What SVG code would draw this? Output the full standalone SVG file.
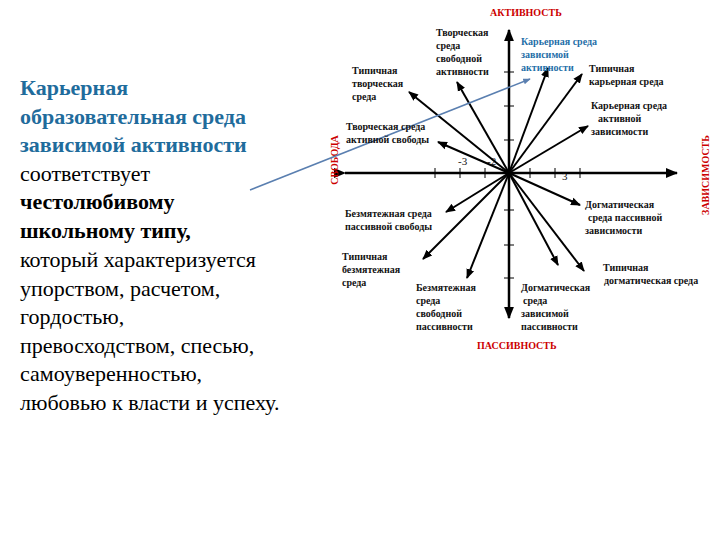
<svg xmlns="http://www.w3.org/2000/svg" width="720" height="540" viewBox="0 0 720 540">
<style>
.l{font-family:"Liberation Serif","Times New Roman",serif;font-size:22px;fill:#000}
.bl{fill:#1f6c9c;font-weight:bold}
.t{font-family:"Liberation Serif","Times New Roman",serif;font-size:10px;font-weight:bold;fill:#111}
.r{font-family:"Liberation Serif","Times New Roman",serif;font-size:10px;font-weight:bold;fill:#cc0000}
.k{stroke:#000;stroke-width:2;fill:none}
.v{stroke:#000;stroke-width:2.5;fill:none}
</style>
<defs>
<marker id="a" viewBox="0 0 10 10" refX="9" refY="5" markerWidth="5" markerHeight="5" orient="auto"><path d="M0,1 L10,5 L0,9 z" fill="#000"/></marker>
<marker id="b" viewBox="0 0 10 10" refX="9" refY="5" markerWidth="5" markerHeight="5" orient="auto"><path d="M0,1 L10,5 L0,9 z" fill="#5a7fb0"/></marker>
</defs>
<rect width="720" height="540" fill="#fff"/>
<g id="text-left" class="l">
<text x="20" y="95" class="bl">Карьерная</text>
<text x="20" y="124" class="bl">образовательная среда</text>
<text x="20" y="152" class="bl">зависимой активности</text>
<text x="20" y="181">соответствует</text>
<text x="20" y="209" font-weight="bold">честолюбивому</text>
<text x="20" y="238" font-weight="bold">школьному типу,</text>
<text x="20" y="267">который характеризуется</text>
<text x="20" y="296">упорством, расчетом,</text>
<text x="20" y="324">гордостью,</text>
<text x="20" y="353">превосходством, спесью,</text>
<text x="20" y="381">самоуверенностью,</text>
<text x="20" y="410">любовью к власти и успеху.</text>
</g>
<g id="axes">
<line class="v" x1="345" y1="173" x2="677" y2="173" marker-end="url(#a)" marker-start="url(#a)"/>
<line class="v" x1="509" y1="173" x2="509" y2="30" marker-end="url(#a)"/>
<line class="v" x1="509" y1="173" x2="509" y2="318" marker-end="url(#a)"/>
<path d="M435,168v10M460,168v10M485,168v10M530,168v10M555,168v10M580,168v10M504,72h10M504,106h10M504,140h10M504,210h10M504,245h10M504,278h10" stroke="#000" stroke-width="1"/>
<text class="t" x="458" y="165" style="font-weight:normal;font-size:11px">-3</text>
<text class="t" x="487" y="165" style="font-weight:normal;font-size:11px">-2</text>
<text class="t" x="562" y="180" style="font-weight:normal;font-size:11px">3</text>
<text class="r" x="490" y="16">АКТИВНОСТЬ</text>
<text class="r" x="477" y="349">ПАССИВНОСТЬ</text>
<text class="r" transform="translate(338,160) rotate(-90)" text-anchor="middle">СВОБОДА</text>
<text class="r" transform="translate(709,175) rotate(-90)" text-anchor="middle">ЗАВИСИМОСТЬ</text>
</g>
<g id="connectors">
<line class="k" x1="509" y1="173" x2="409" y2="92" marker-end="url(#a)"/>
<line class="k" x1="509" y1="173" x2="457" y2="82" marker-end="url(#a)"/>
<line class="k" x1="509" y1="173" x2="548" y2="68" marker-end="url(#a)"/>
<line class="k" x1="509" y1="173" x2="582" y2="74" marker-end="url(#a)"/>
<line class="k" x1="509" y1="173" x2="588" y2="126" marker-end="url(#a)"/>
<line class="k" x1="509" y1="173" x2="438" y2="142" marker-end="url(#a)"/>
<line class="k" x1="509" y1="173" x2="446" y2="212" marker-end="url(#a)"/>
<line class="k" x1="509" y1="173" x2="423" y2="259" marker-end="url(#a)"/>
<line class="k" x1="509" y1="173" x2="467" y2="278" marker-end="url(#a)"/>
<line class="k" x1="509" y1="173" x2="580" y2="205" marker-end="url(#a)"/>
<line class="k" x1="509" y1="173" x2="558" y2="265" marker-end="url(#a)"/>
<line class="k" x1="509" y1="173" x2="584" y2="271" marker-end="url(#a)"/>
<line x1="250" y1="190" x2="530" y2="79" stroke="#5a7fb0" stroke-width="1.5" marker-end="url(#b)"/>
</g>
<g id="labels" class="t">
<text x="352" y="74">Типичная</text><text x="352" y="87">творческая</text><text x="352" y="100">среда</text>
<text x="436" y="36">Творческая</text><text x="436" y="49">среда</text><text x="436" y="62">свободной</text><text x="436" y="75">активности</text>
<text x="521" y="45" style="fill:#1f6fa8">Карьерная среда</text><text x="521" y="58" style="fill:#1f6fa8">зависимой</text><text x="521" y="71" style="fill:#1f6fa8">активности</text>
<text x="589" y="72">Типичная</text><text x="589" y="85">карьерная среда</text>
<text x="591" y="109">Карьерная среда</text><text x="598" y="122">активной</text><text x="591" y="135">зависимости</text>
<text x="346" y="130">Творческая среда</text><text x="346" y="143">активной свободы</text>
<text x="345" y="217">Безмятежная среда</text><text x="345" y="230">пассивной свободы</text>
<text x="342" y="260">Типичная</text><text x="342" y="273">безмятежная</text><text x="342" y="286">среда</text>
<text x="416" y="291">Безмятежная</text><text x="416" y="304">среда</text><text x="416" y="317">свободной</text><text x="416" y="330">пассивности</text>
<text x="585" y="208">Догматическая</text><text x="588" y="221">среда пассивной</text><text x="585" y="234">зависимости</text>
<text x="521" y="291">Догматическая</text><text x="523" y="304">среда</text><text x="521" y="317">зависимой</text><text x="521" y="330">пассивности</text>
<text x="603" y="271">Типичная</text><text x="604" y="284">догматическая среда</text>
</g>
</svg>
